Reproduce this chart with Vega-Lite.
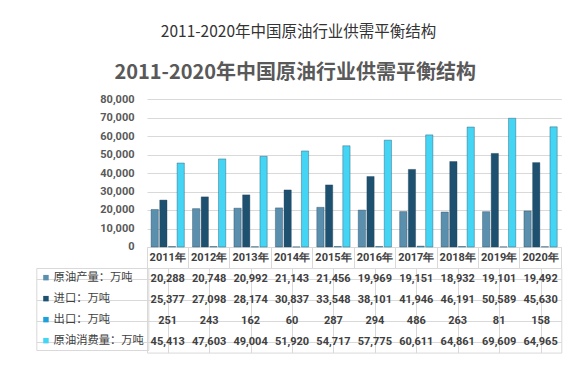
{
  "$schema": "https://vega.github.io/schema/vega-lite/v6.json",
  "background": "white",
  "padding": {"left": 35, "top": 24, "right": 28, "bottom": 20},
  "title": {"text": "2011-2020年中国原油行业供需平衡结构", "font": "Noto Sans CJK SC", "fontSize": 15.5, "fontWeight": "normal", "color": "#333333", "anchor": "middle", "offset": 23},
  "data": {"values": [
    {"year": "2011年", "series": "原油产量：万吨", "value": 20288},
    {"year": "2011年", "series": "进口：万吨", "value": 25377},
    {"year": "2011年", "series": "出口：万吨", "value": 251},
    {"year": "2011年", "series": "原油消费量：万吨", "value": 45413},
    {"year": "2012年", "series": "原油产量：万吨", "value": 20748},
    {"year": "2012年", "series": "进口：万吨", "value": 27098},
    {"year": "2012年", "series": "出口：万吨", "value": 243},
    {"year": "2012年", "series": "原油消费量：万吨", "value": 47603},
    {"year": "2013年", "series": "原油产量：万吨", "value": 20992},
    {"year": "2013年", "series": "进口：万吨", "value": 28174},
    {"year": "2013年", "series": "出口：万吨", "value": 162},
    {"year": "2013年", "series": "原油消费量：万吨", "value": 49004},
    {"year": "2014年", "series": "原油产量：万吨", "value": 21143},
    {"year": "2014年", "series": "进口：万吨", "value": 30837},
    {"year": "2014年", "series": "出口：万吨", "value": 60},
    {"year": "2014年", "series": "原油消费量：万吨", "value": 51920},
    {"year": "2015年", "series": "原油产量：万吨", "value": 21456},
    {"year": "2015年", "series": "进口：万吨", "value": 33548},
    {"year": "2015年", "series": "出口：万吨", "value": 287},
    {"year": "2015年", "series": "原油消费量：万吨", "value": 54717},
    {"year": "2016年", "series": "原油产量：万吨", "value": 19969},
    {"year": "2016年", "series": "进口：万吨", "value": 38101},
    {"year": "2016年", "series": "出口：万吨", "value": 294},
    {"year": "2016年", "series": "原油消费量：万吨", "value": 57775},
    {"year": "2017年", "series": "原油产量：万吨", "value": 19151},
    {"year": "2017年", "series": "进口：万吨", "value": 41946},
    {"year": "2017年", "series": "出口：万吨", "value": 486},
    {"year": "2017年", "series": "原油消费量：万吨", "value": 60611},
    {"year": "2018年", "series": "原油产量：万吨", "value": 18932},
    {"year": "2018年", "series": "进口：万吨", "value": 46191},
    {"year": "2018年", "series": "出口：万吨", "value": 263},
    {"year": "2018年", "series": "原油消费量：万吨", "value": 64861},
    {"year": "2019年", "series": "原油产量：万吨", "value": 19101},
    {"year": "2019年", "series": "进口：万吨", "value": 50589},
    {"year": "2019年", "series": "出口：万吨", "value": 81},
    {"year": "2019年", "series": "原油消费量：万吨", "value": 69609},
    {"year": "2020年", "series": "原油产量：万吨", "value": 19492},
    {"year": "2020年", "series": "进口：万吨", "value": 45630},
    {"year": "2020年", "series": "出口：万吨", "value": 158},
    {"year": "2020年", "series": "原油消费量：万吨", "value": 64965}
  ]},
  "spacing": 21,
  "bounds": "flush",
  "vconcat": [
    {
      "width": 414.3,
      "height": 148,
      "view": {"stroke": null},
      "title": {"text": "2011-2020年中国原油行业供需平衡结构", "font": "Noto Sans CJK SC", "fontSize": 20, "fontWeight": "bold", "color": "#595959", "anchor": "middle", "dx": -59, "offset": 10},
      "mark": {"type": "bar", "stroke": "#1f3f55", "strokeWidth": 0.6, "strokeOpacity": 0.6},
      "encoding": {
        "x": {"field": "year", "type": "nominal", "scale": {"paddingInner": 0, "paddingOuter": 0},
          "axis": {"title": null, "labelAngle": 0, "bandPosition": 1, "tickExtra": true, "tickSize": 21, "tickColor": "#d9d9d9", "domainColor": "#d9d9d9", "labelPadding": -10.5, "labelBaseline": "middle", "labelFont": "Roboto", "labelFontSize": 11, "labelFontWeight": "bold", "labelColor": "#404040"}},
        "xOffset": {"field": "series", "type": "nominal", "sort": ["原油产量：万吨", "进口：万吨", "出口：万吨", "原油消费量：万吨"], "scale": {"paddingInner": 0.16, "paddingOuter": 0.47}},
        "y": {"field": "value", "type": "quantitative", "scale": {"domain": [0, 80000]},
          "axis": {"title": null, "values": [0, 10000, 20000, 30000, 40000, 50000, 60000, 70000, 80000], "format": ",.0f", "domain": false, "ticks": false, "labelPadding": 13, "gridColor": "#d9d9d9", "labelFont": "Roboto", "labelFontSize": 11, "labelFontWeight": "bold", "labelColor": "#595959"}},
        "color": {"field": "series", "type": "nominal", "sort": ["原油产量：万吨", "进口：万吨", "出口：万吨", "原油消费量：万吨"],
          "scale": {"domain": ["原油产量：万吨", "进口：万吨", "出口：万吨", "原油消费量：万吨"], "range": ["#5a8fae", "#1e5170", "#20a0d8", "#44d4f4"]},
          "legend": {"title": null, "orient": "none", "legendX": -110.7, "legendY": 169, "symbolType": "square", "symbolSize": 30, "symbolStrokeWidth": 0, "labelFont": "Noto Sans CJK SC", "labelFontSize": 11.3, "labelColor": "#404040", "padding": 4, "rowPadding": 9, "strokeColor": "#d9d9d9", "labelOffset": 2, "symbolOffset": 0}}
      }
    },
    {
      "width": 414.3,
      "height": 84.6,
      "view": {"stroke": "#d9d9d9"},
      "mark": {"type": "text", "font": "Roboto", "fontSize": 11, "fontWeight": "bold", "color": "#404040"},
      "encoding": {
        "x": {"field": "year", "type": "nominal", "scale": {"paddingInner": 0, "paddingOuter": 0},
          "axis": {"title": null, "labels": false, "ticks": false, "domain": false, "grid": true, "bandPosition": 0, "gridColor": "#d9d9d9"}},
        "y": {"field": "series", "type": "nominal", "sort": ["原油产量：万吨", "进口：万吨", "出口：万吨", "原油消费量：万吨"], "scale": {"paddingInner": 0, "paddingOuter": 0},
          "axis": {"title": null, "labels": false, "domain": false, "ticks": true, "tickSize": 110.7, "tickColor": "#d9d9d9", "bandPosition": 0, "grid": true, "gridColor": "#d9d9d9"}},
        "text": {"field": "value", "type": "quantitative", "format": ","}
      }
    }
  ]
}
